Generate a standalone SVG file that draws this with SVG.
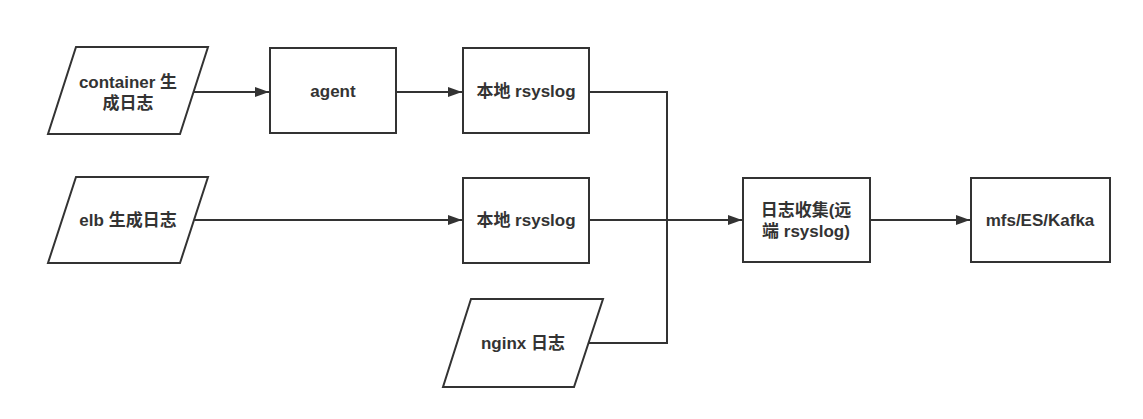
<svg xmlns="http://www.w3.org/2000/svg" width="1143" height="419" viewBox="0 0 1143 419">
<style>
.s{fill:#fff;stroke:#333;stroke-width:2}
.t{font-family:"Liberation Sans","Noto Sans CJK SC",sans-serif;font-weight:bold;font-size:17px;fill:#333;text-anchor:middle}
.c{fill:none;stroke:#333;stroke-width:2}
</style>
<defs>
<marker id="a" markerWidth="14" markerHeight="10" refX="14" refY="5" orient="auto" markerUnits="userSpaceOnUse">
<path d="M0,0 L14,5 L0,10 Z" fill="#333"/>
</marker>
</defs>
<rect width="1143" height="419" fill="#fff"/>
<g id="connectors">
<path class="c" d="M194,92 H269" marker-end="url(#a)"/>
<path class="c" d="M396,92 H462" marker-end="url(#a)"/>
<path class="c" d="M194,220 H462" marker-end="url(#a)"/>
<path class="c" d="M589,92 H667 V343 H589"/>
<path class="c" d="M589,220 H742" marker-end="url(#a)"/>
<path class="c" d="M870,220 H970" marker-end="url(#a)"/>
</g>
<g id="container">
<polygon class="s" points="76,47 208,47 180,134 48,134"/>
<text class="t" x="128" y="88">container 生</text>
<text class="t" x="128" y="109">成日志</text>
</g>
<g id="agent">
<rect class="s" x="270" y="48" width="126" height="85"/>
<text class="t" x="333" y="97">agent</text>
</g>
<g id="rsyslog1">
<rect class="s" x="463" y="48" width="126" height="85"/>
<text class="t" x="526" y="97">本地 rsyslog</text>
</g>
<g id="elb">
<polygon class="s" points="76,177 208,177 180,263 48,263"/>
<text class="t" x="128" y="226">elb 生成日志</text>
</g>
<g id="rsyslog2">
<rect class="s" x="463" y="178" width="126" height="85"/>
<text class="t" x="526" y="226">本地 rsyslog</text>
</g>
<g id="nginx">
<polygon class="s" points="471,299 603,299 574,387 443,387"/>
<text class="t" x="523" y="349">nginx 日志</text>
</g>
<g id="collect">
<rect class="s" x="743" y="178" width="127" height="84"/>
<text class="t" x="806" y="216">日志收集(远</text>
<text class="t" x="806" y="237">端 rsyslog)</text>
</g>
<g id="store">
<rect class="s" x="971" y="178" width="139" height="84"/>
<text class="t" x="1040" y="226">mfs/ES/Kafka</text>
</g>
</svg>
